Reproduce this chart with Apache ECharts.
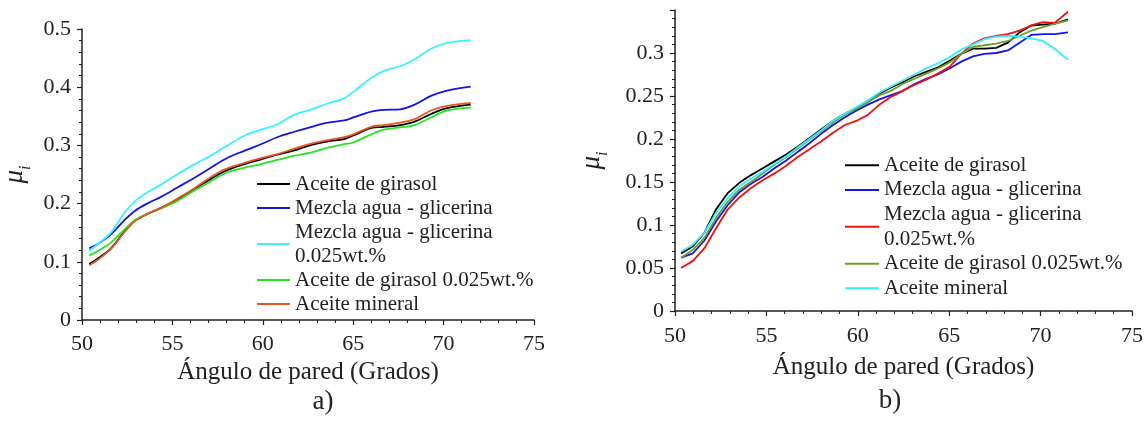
<!DOCTYPE html>
<html>
<head>
<meta charset="utf-8">
<script src="https://cdn.jsdelivr.net/npm/echarts@6/dist/echarts.min.js"></script>
<style>
  html, body { margin: 0; padding: 0; background: #fff; }
  #chart { width: 1147px; height: 423px; }
</style>
</head>
<body>
<div id="chart"></div>
<script>
// Panel a) wall angle vs. friction coefficient
const anglesA = [50.4, 50.9, 51.6, 52.3, 52.9, 53.6, 54.4, 55.3, 56.2, 57.1, 58.0, 59.0, 59.9,
                 60.8, 61.7, 62.7, 63.6, 64.5, 65.0, 66.0, 66.7, 67.6, 68.4, 69.3, 70.2, 71.5];
const girasolA = [0.096, 0.106, 0.123, 0.150, 0.170, 0.182, 0.193, 0.208, 0.225, 0.242, 0.257, 0.268, 0.276,
                  0.284, 0.291, 0.301, 0.307, 0.311, 0.317, 0.330, 0.332, 0.335, 0.341, 0.354, 0.364, 0.370];
const mezclaA = [0.123, 0.131, 0.147, 0.170, 0.187, 0.200, 0.212, 0.228, 0.244, 0.261, 0.278, 0.291, 0.302,
                 0.314, 0.323, 0.332, 0.339, 0.343, 0.348, 0.358, 0.361, 0.362, 0.370, 0.385, 0.394, 0.401];
const mezclaWtA = [0.119, 0.131, 0.150, 0.182, 0.203, 0.219, 0.233, 0.251, 0.267, 0.282, 0.299, 0.317, 0.327,
                   0.336, 0.352, 0.362, 0.372, 0.381, 0.392, 0.416, 0.428, 0.436, 0.448, 0.466, 0.476, 0.481];
const girasolWtA = [0.111, 0.119, 0.133, 0.154, 0.171, 0.182, 0.192, 0.205, 0.222, 0.238, 0.253, 0.262, 0.268,
                    0.275, 0.282, 0.288, 0.296, 0.302, 0.305, 0.319, 0.327, 0.331, 0.335, 0.348, 0.360, 0.365];
const mineralA = [0.094, 0.104, 0.122, 0.149, 0.169, 0.182, 0.193, 0.209, 0.226, 0.245, 0.260, 0.270, 0.278,
                  0.285, 0.294, 0.303, 0.309, 0.314, 0.319, 0.332, 0.335, 0.339, 0.345, 0.360, 0.368, 0.373];

// Panel b)
const anglesB = [50.33, 50.97, 51.61, 52.24, 52.88, 53.52, 54.16, 54.80, 55.44, 56.08, 56.71, 57.35,
                 57.99, 58.63, 59.27, 59.91, 60.55, 61.19, 61.82, 62.46, 63.10, 63.74, 64.38, 65.02,
                 65.66, 66.30, 66.93, 67.57, 68.21, 68.85, 69.49, 70.13, 70.77, 71.50];
const girasolB = [0.067, 0.075, 0.091, 0.118, 0.137, 0.149, 0.158, 0.166, 0.174, 0.182, 0.191, 0.201,
                  0.211, 0.221, 0.229, 0.236, 0.243, 0.253, 0.260, 0.266, 0.273, 0.278, 0.283, 0.291,
                  0.299, 0.305, 0.305, 0.306, 0.312, 0.324, 0.332, 0.333, 0.334, 0.339];
const mezclaB = [0.062, 0.067, 0.082, 0.104, 0.123, 0.138, 0.148, 0.156, 0.166, 0.175, 0.185, 0.195,
                 0.206, 0.216, 0.225, 0.233, 0.240, 0.246, 0.251, 0.256, 0.264, 0.270, 0.275, 0.282,
                 0.290, 0.296, 0.299, 0.300, 0.303, 0.312, 0.321, 0.322, 0.322, 0.324];
const mezclaWtB = [0.050, 0.058, 0.073, 0.096, 0.118, 0.132, 0.143, 0.152, 0.160, 0.169, 0.179, 0.188,
                   0.197, 0.207, 0.216, 0.221, 0.228, 0.240, 0.249, 0.256, 0.263, 0.269, 0.276, 0.284,
                   0.299, 0.311, 0.317, 0.320, 0.322, 0.326, 0.332, 0.336, 0.335, 0.348];
const girasolWtB = [0.062, 0.071, 0.085, 0.108, 0.127, 0.141, 0.150, 0.160, 0.170, 0.179, 0.189, 0.199,
                    0.209, 0.219, 0.228, 0.235, 0.243, 0.251, 0.256, 0.264, 0.270, 0.276, 0.282, 0.289,
                    0.299, 0.307, 0.309, 0.311, 0.314, 0.320, 0.326, 0.330, 0.334, 0.338];
const mineralB = [0.069, 0.077, 0.091, 0.114, 0.131, 0.145, 0.154, 0.162, 0.171, 0.180, 0.190, 0.200,
                  0.210, 0.221, 0.229, 0.237, 0.245, 0.254, 0.261, 0.268, 0.275, 0.282, 0.288, 0.295,
                  0.304, 0.310, 0.316, 0.319, 0.320, 0.319, 0.317, 0.314, 0.305, 0.292];

const labelsA = ['Aceite de girasol', 'Mezcla agua - glicerina', 'Mezcla agua - glicerina\n0.025wt.%',
                 'Aceite de girasol 0.025wt.%', 'Aceite mineral'];
const labelsB = ['Aceite de girasol', 'Mezcla agua - glicerina', 'Mezcla agua - glicerina\n0.025wt.%',
                 'Aceite de girasol 0.025wt.%', 'Aceite mineral'];
const xTicks = [50, 55, 60, 65, 70, 75];
const xTitle = 'Ángulo de pared (Grados)';

const FONT = 'Liberation Serif';
const INK = '#222';

const colorsA = ['#000000', '#1212f0', '#33f4ff', '#22e622', '#e8561e'];
const colorsB = ['#000000', '#1414f0', '#f01010', '#6e9e26', '#2ef0ff'];

function pairs(xs, ys) { return xs.map((x, i) => [x, ys[i]]); }

function xAxis(gridIndex, nameGap, labelMargin) {
  return {
    type: 'value', gridIndex, min: 50, max: 75, interval: 5,
    name: xTitle, nameLocation: 'middle', nameGap,
    nameTextStyle: { fontFamily: FONT, fontSize: 25, color: INK },
    axisLine: { show: true, onZero: false, lineStyle: { color: INK, width: 1.5 } },
    axisTick: { show: true, length: 5, lineStyle: { color: INK, width: 1.2 } },
    minorTick: { show: true, splitNumber: 5, length: 3, lineStyle: { color: INK, width: 1 } },
    splitLine: { show: false },
    axisLabel: { fontFamily: FONT, fontSize: 22, color: INK, margin: labelMargin,
                 formatter: v => xTicks.includes(v) ? String(v) : '' }
  };
}

function yAxis(gridIndex, max, interval, nameGap, hideTop) {
  return {
    type: 'value', gridIndex, min: 0, max, interval,
    name: '{mu|μ}{sub|i}', nameLocation: 'middle', nameGap, nameRotate: 90,
    nameTextStyle: {
      rich: {
        mu: { fontFamily: FONT, fontStyle: 'italic', fontSize: 27, color: INK, padding: [0, 0, 6, 0] },
        sub: { fontFamily: FONT, fontStyle: 'italic', fontSize: 16, color: INK, verticalAlign: 'bottom' }
      }
    },
    axisLine: { show: true, onZero: false, lineStyle: { color: INK, width: 1.5 } },
    axisTick: { show: true, length: 5, lineStyle: { color: INK, width: 1.2 } },
    minorTick: { show: true, splitNumber: 5, length: 3, lineStyle: { color: INK, width: 1 } },
    splitLine: { show: false },
    axisLabel: { fontFamily: FONT, fontSize: 22, color: INK, margin: 11,
                 formatter: v => (hideTop && Math.abs(v - max) < 1e-9) ? '' : String(+v.toFixed(2)) }
  };
}

const seriesA = [girasolA, mezclaA, mezclaWtA, girasolWtA, mineralA].map((ys, i) => ({
  type: 'line', name: 'a:' + labelsA[i], xAxisIndex: 0, yAxisIndex: 0,
  data: pairs(anglesA, ys), smooth: 0.35, symbol: 'none',
  lineStyle: { color: colorsA[i], width: 1.8 }, itemStyle: { color: colorsA[i] }
}));
const seriesB = [girasolB, mezclaB, mezclaWtB, girasolWtB, mineralB].map((ys, i) => ({
  type: 'line', name: 'b:' + labelsB[i], xAxisIndex: 1, yAxisIndex: 1,
  data: pairs(anglesB, ys), smooth: false, symbol: 'none',
  lineStyle: { color: colorsB[i], width: 1.8 }, itemStyle: { color: colorsB[i] }
}));

// Legend keys carry a panel prefix so the same label can have different colours per panel
function legend(names, left, top, itemWidth, lineHeight) {
  return {
    data: names, left, top, orient: 'vertical', itemGap: 0,
    icon: 'rect', itemWidth, itemHeight: 2, padding: 0,
    selectedMode: false,
    formatter: n => n.slice(2),
    textStyle: { fontFamily: FONT, fontSize: 21, color: INK, lineHeight }
  };
}

const chart = echarts.init(document.getElementById('chart'), null, { renderer: 'canvas' });
chart.setOption({
  animation: false,
  backgroundColor: '#fff',
  grid: [
    { left: 80, top: 29, width: 454, height: 291 },
    { left: 675, top: 10, width: 457, height: 301 }
  ],
  xAxis: [xAxis(0, 40, 13), xAxis(1, 44, 14)],
  yAxis: [yAxis(0, 0.5, 0.1, 48, false), yAxis(1, 0.35, 0.05, 64, true)],
  legend: [
    legend(labelsA.map(l => 'a:' + l), 257, 172, 33, 24),
    legend(labelsB.map(l => 'b:' + l), 845, 153, 34, 24.6)
  ],
  graphic: [
    { type: 'text', x: 323, y: 402, style: { text: 'a)', font: '27px "Liberation Serif"', fill: INK,
      textAlign: 'center', textVerticalAlign: 'middle' } },
    { type: 'text', x: 890, y: 401, style: { text: 'b)', font: '27px "Liberation Serif"', fill: INK,
      textAlign: 'center', textVerticalAlign: 'middle' } }
  ],
  series: seriesA.concat(seriesB)
});
</script>
</body>
</html>
